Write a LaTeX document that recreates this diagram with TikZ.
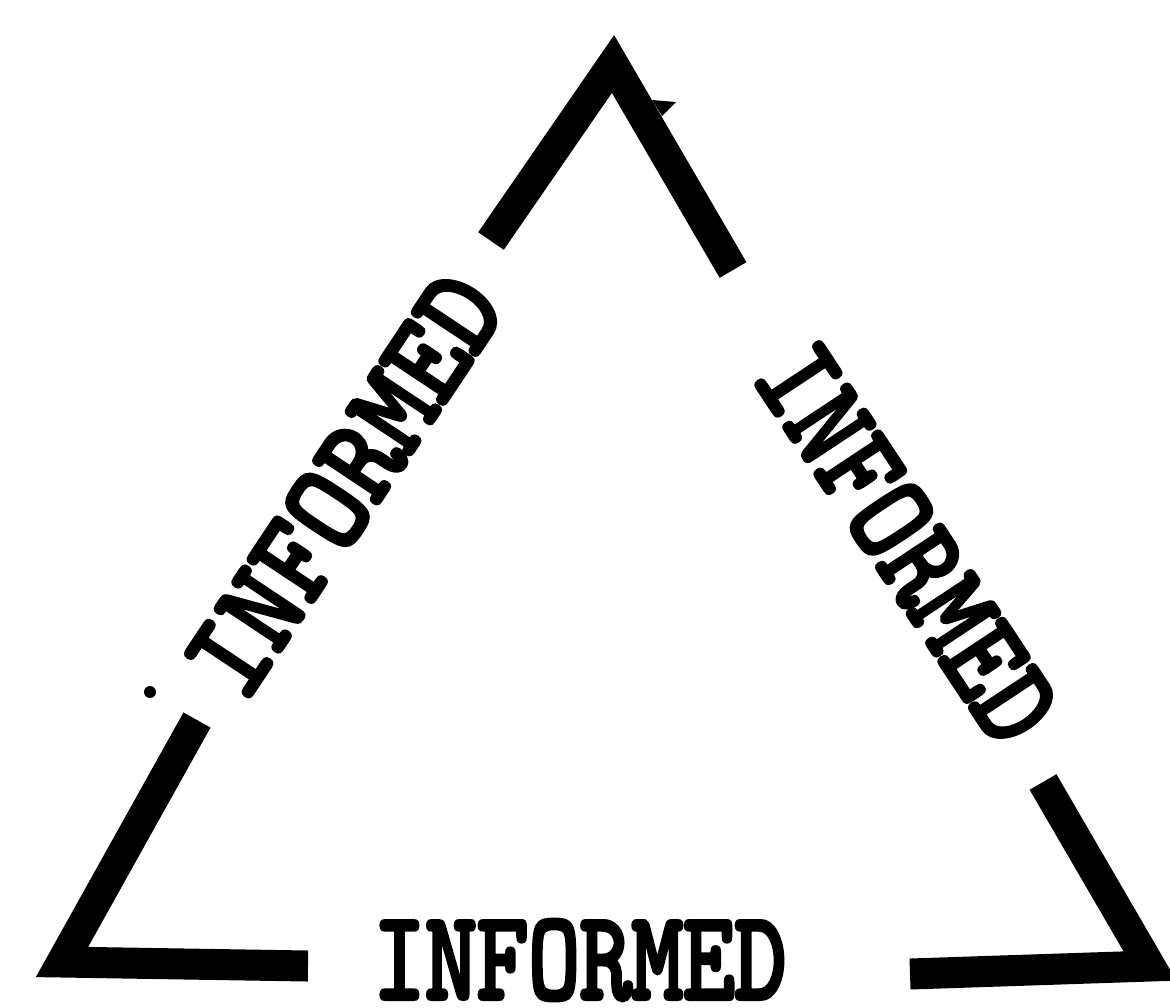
\documentclass[tikz,border=0pt]{standalone}
\usepackage{fontspec}
\newfontfamily\twfont{lmmono10-regular}[Extension=.otf, FakeBold=4]
\begin{document}
\begin{tikzpicture}[x=0.5pt,y=-0.5pt]
\tikzset{
  bar/.style={line width=15.5pt, line join=miter, line cap=butt, miter limit=10},
  lbl/.style={font=\twfont\fontsize{63pt}{63pt}\selectfont, inner sep=0pt}
}
\useasboundingbox (0,0) rectangle (1170,1007);
% corner and end points of the broken triangle
\coordinate (apex) at (613,64);
\coordinate (ulend) at (491,241);
\coordinate (urend) at (733,270);
\coordinate (llend) at (197,720);
\coordinate (blc) at (62,962);
\coordinate (blend) at (308,966);
\coordinate (brstart) at (910,974);
\coordinate (brc) at (1150,966);
\coordinate (lrend) at (1043,782);
\draw[bar] (ulend) -- (apex) -- (urend);
\draw[bar] (llend) -- (blc) -- (blend);
\draw[bar] (brstart) -- (brc) -- (lrend);
% small spur near apex and speck
\fill (652,100) -- (676,102) -- (662,116) -- cycle;
\fill (150,692) circle (6);
% labels
\node[lbl, rotate=56.4] (leftlbl) at (344,485) {\scalebox{0.9}[1]{INFORMED}};
\node[lbl, rotate=-56.5] (rightlbl) at (907,543) {\scalebox{0.85}[1]{INFORMED}};
\node[lbl] (bottomlbl) at (580,960) {\scalebox{0.78}[1]{INFORMED}};
\end{tikzpicture}
\end{document}
